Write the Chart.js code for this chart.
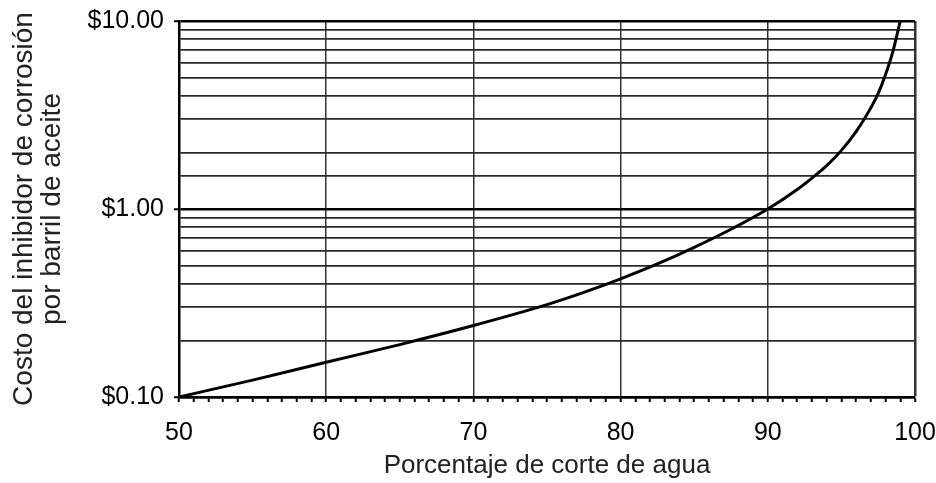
<!DOCTYPE html>
<html>
<head>
<meta charset="utf-8">
<script src="https://cdn.jsdelivr.net/npm/chart.js@4.4.0/dist/chart.umd.min.js"></script>
<style>
  html, body { margin: 0; padding: 0; background: #fff; }
  #wrap { width: 936px; height: 483px; }
</style>
</head>
<body>
<div id="wrap"><canvas id="costChart"></canvas></div>
<script>
// water cut (%) vs corrosion inhibitor cost per barrel of oil
const waterCut = [50, 55, 60, 65, 70, 75, 77.5, 80, 82.5, 85, 87.5, 90, 92, 93, 94, 95, 96, 97, 97.5, 98, 98.5, 99];
const costPerBarrel = [0.10, 0.123, 0.153, 0.19, 0.24, 0.31, 0.36, 0.425, 0.51, 0.625, 0.78, 1.0, 1.27, 1.46, 1.7, 2.05, 2.58, 3.45, 4.12, 5.2, 6.9, 10.0];
const xTickLabels = [50, 60, 70, 80, 90, 100];
const yTickLabels = { 0.1: "$0.10", 1: "$1.00", 10: "$10.00" };

function isDecade(v) {
    const l = Math.log10(v);
    return Math.abs(l - Math.round(l)) < 1e-6;
}

// labels are allowed to hang over the chart edges, so drop the extra padding
function noEdgePadding(scale) {
    scale.paddingLeft = 0;
    scale.paddingRight = 0;
    scale.paddingTop = 0;
    scale.paddingBottom = 0;
}

document.addEventListener("DOMContentLoaded", function () {
    renderChart();
});

function renderChart() {
    const ctx = document.getElementById("costChart").getContext("2d");
    const points = waterCut.map((x, i) => ({ x: x, y: costPerBarrel[i] }));

    new Chart(ctx, {
        type: "line",
        data: {
            datasets: [{
                data: points,
                borderColor: "#000",
                borderWidth: 3,
                pointRadius: 0,
                fill: false,
                cubicInterpolationMode: "monotone"
            }]
        },
        options: {
            responsive: true,
            maintainAspectRatio: false,
            animation: false,
            layout: { padding: { left: 0, top: 21, right: 21, bottom: 0 } },
            plugins: { legend: { display: false }, tooltip: { enabled: false } },
            scales: {
                x: {
                    type: "linear",
                    min: 50,
                    max: 100,
                    afterFit: scale => { scale.height = 86; noEdgePadding(scale); },
                    ticks: {
                        stepSize: 1,
                        autoSkip: false,
                        maxRotation: 0,
                        maxTicksLimit: 100,
                        padding: 16,
                        color: "#000",
                        font: { family: "Liberation Sans, Arial", size: 25 },
                        callback: v => xTickLabels.includes(v) ? String(v) : ""
                    },
                    grid: {
                        tickLength: 5,
                        color: c => xTickLabels.includes(c.tick.value) ? "#333" : "rgba(0,0,0,0)",
                        tickColor: "#000",
                        lineWidth: c => c.tick.value === 100 ? 2.5 : 1.5,
                        tickWidth: 2
                    },
                    border: { color: "#000", width: 2.5 },
                    title: {
                        display: true,
                        text: "Porcentaje de corte de agua",
                        color: "#222",
                        font: { family: "Liberation Sans, Arial", size: 26, lineHeight: 1.2 },
                        padding: { top: 0, bottom: 2 }
                    }
                },
                y: {
                    type: "logarithmic",
                    min: 0.1,
                    max: 10,
                    afterFit: scale => { scale.width = 179; noEdgePadding(scale); },
                    ticks: {
                        autoSkip: false,
                        padding: 10,
                        color: "#000",
                        font: { family: "Liberation Sans, Arial", size: 25 },
                        callback: v => isDecade(v) ? yTickLabels[Math.round(v * 10) / 10] : ""
                    },
                    grid: {
                        tickLength: 5,
                        color: c => isDecade(c.tick.value) ? "#000" : "#2a2a2a",
                        tickColor: c => isDecade(c.tick.value) ? "#000" : "rgba(0,0,0,0)",
                        lineWidth: c => isDecade(c.tick.value) ? 2.5 : 1.8,
                        tickWidth: 2
                    },
                    border: { color: "#000", width: 2.5 },
                    title: {
                        display: true,
                        text: ["Costo del inhibidor de corrosión", "por barril de aceite"],
                        color: "#222",
                        font: { family: "Liberation Sans, Arial", size: 28, lineHeight: 1 },
                        padding: { top: 10, bottom: 0 }
                    }
                }
            }
        }
    });
}
</script>
</body>
</html>
